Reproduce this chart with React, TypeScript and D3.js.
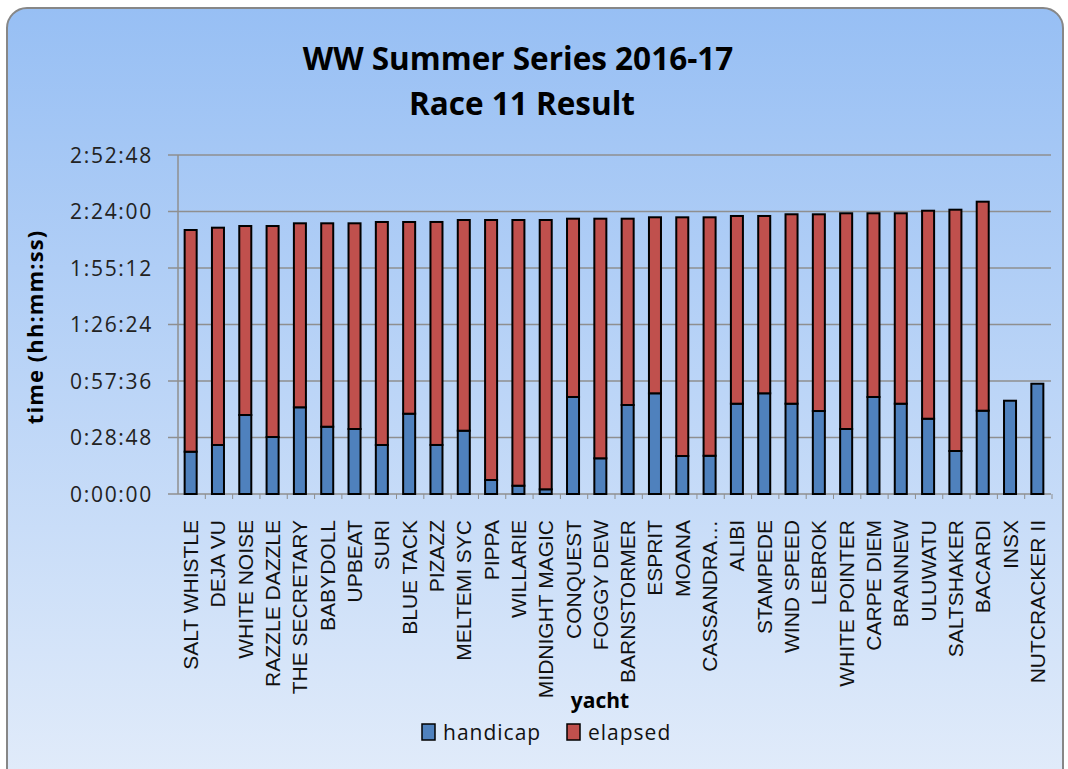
import * as d3 from "d3";
import React from "react";

const yachts = [
  "SALT WHISTLE", "DEJA VU", "WHITE NOISE", "RAZZLE DAZZLE", "THE SECRETARY", "BABYDOLL",
  "UPBEAT", "SURI", "BLUE TACK", "PIZAZZ", "MELTEMI SYC", "PIPPA", "WILLARIE", "MIDNIGHT MAGIC",
  "CONQUEST", "FOGGY DEW", "BARNSTORMER", "ESPRIT", "MOANA", "CASSANDRA\u2026", "ALIBI",
  "STAMPEDE", "WIND SPEED", "LEBROK", "WHITE POINTER", "CARPE DIEM", "BRANNEW", "ULUWATU",
  "SALTSHAKER", "BACARDI", "INSX", "NUTCRACKER II",
];

// start offset (hh:mm:ss)
const handicap = [
  "0:21:34", "0:24:59", "0:40:16", "0:29:03", "0:44:12", "0:34:18",
  "0:33:08", "0:24:59", "0:40:56", "0:25:00", "0:32:16", "0:07:08", "0:04:14", "0:02:24",
  "0:49:27", "0:18:12", "0:45:22", "0:51:20", "0:19:22", "0:19:30", "0:46:02",
  "0:51:20", "0:46:02", "0:42:18", "0:33:08", "0:49:27", "0:46:02", "0:38:23",
  "0:21:55", "0:42:28", "0:47:33", "0:56:13",
];

// sailing time (hh:mm:ss)
const elapsed = [
  "1:53:00", "1:50:46", "1:36:20", "1:47:33", "1:33:47", "1:43:41",
  "1:44:51", "1:53:40", "1:37:43", "1:53:40", "1:47:24", "2:12:32", "2:15:26", "2:17:16",
  "1:30:53", "2:02:08", "1:34:58", "1:29:43", "2:01:40", "2:01:32", "1:35:41",
  "1:30:23", "1:36:33", "1:40:16", "1:49:57", "1:33:38", "1:37:03", "1:46:01",
  "2:03:00", "1:46:32", "0:00:00", "0:00:00",
];

const yTicks = ["0:00:00", "0:28:48", "0:57:36", "1:26:24", "1:55:12", "2:24:00", "2:52:48"];

const toSec = (s: string) => {
  const [h, m, x] = s.split(":").map(Number);
  return h * 3600 + m * 60 + x;
};

const W = 1068;
const H = 769;
const margin = { top: 155, right: 17, bottom: 275, left: 178 };

export default function App() {
  const x = d3
    .scaleBand<string>()
    .domain(yachts)
    .range([margin.left - 1, W - margin.right])
    .paddingInner(0.56)
    .paddingOuter(0.28);

  const y = d3
    .scaleLinear()
    .domain([0, toSec(yTicks[yTicks.length - 1])])
    .range([H - margin.bottom, margin.top]);

  const rows = yachts.map((name, i) => ({
    name,
    handicap: toSec(handicap[i]),
    elapsed: toSec(elapsed[i]),
  }));
  const stack = d3.stack<any>().keys(["handicap", "elapsed"])(rows);
  const colors = ["#4f81bd", "#c0504d"];

  const x0 = margin.left;
  const x1 = W - margin.right;
  const yBase = y(0);
  const step = x.step();
  const labelFont = "'Liberation Sans', Arial, sans-serif";
  const mainFont = "'Open Sans', Lato, sans-serif";

  return (
    <div style={{ position: "absolute", left: 0, top: 0 }}>
      <svg width={W} height={H} style={{ display: "block" }}>
        <defs>
          <linearGradient id="bg" x1="0" y1="0" x2="0" y2="1">
            <stop offset="0" stopColor="#97bff4" />
            <stop offset="1" stopColor="#e2ecfa" />
          </linearGradient>
        </defs>
        <rect x={7} y={8} width={1056} height={780} rx={20} fill="url(#bg)" stroke="#878787" strokeWidth={2} />

        <text x={518} y={70} textAnchor="middle" fontFamily={mainFont} fontWeight="bold" fontSize={31.5} fill="#000">
          WW Summer Series 2016-17
        </text>
        <text x={522} y={115} textAnchor="middle" fontFamily={mainFont} fontWeight="bold" fontSize={31.5} fill="#000">
          Race 11 Result
        </text>

        {/* gridlines and y axis */}
        {yTicks.map((t) => (
          <g key={t}>
            <line x1={x0 - 10} x2={x1} y1={y(toSec(t))} y2={y(toSec(t))} stroke="#8f8f8f" strokeWidth={1.5} />
            <text x={153} y={y(toSec(t))} dy="0.36em" textAnchor="end" fontFamily={mainFont} fontSize={21} letterSpacing={1.7} fill="#222">
              {t}
            </text>
          </g>
        ))}
        <line x1={x0} x2={x0} y1={margin.top} y2={yBase} stroke="#8f8f8f" strokeWidth={1.5} />
        {yachts.map((name, i) => (
          <line key={"t" + i} x1={x0 + step * (i + 1)} x2={x0 + step * (i + 1)} y1={yBase} y2={yBase + 5} stroke="#8f8f8f" strokeWidth={1} />
        ))}

        {/* bars */}
        {stack.map((layer, li) => (
          <g key={li}>
            {layer.map((d, i) =>
              d[1] - d[0] > 0 ? (
                <rect
                  key={i}
                  x={x(yachts[i])!}
                  y={y(d[1])}
                  width={x.bandwidth()}
                  height={y(d[0]) - y(d[1])}
                  fill={colors[li]}
                  stroke="#000"
                  strokeWidth={2}
                />
              ) : null
            )}
          </g>
        ))}

        {/* category labels */}
        {yachts.map((name) => {
          const cx = x(name)! + x.bandwidth() / 2;
          return (
            <text
              key={name}
              transform={`translate(${cx + 7.5},${520}) rotate(-90)`}
              textAnchor="end"
              fontFamily={labelFont}
              fontSize={21}
              fill="#111"
            >
              {name}
            </text>
          );
        })}

        <text transform={`translate(43,${327}) rotate(-90)`} textAnchor="middle" fontFamily={mainFont} fontWeight="bold" fontSize={22} letterSpacing={1.1}>
          time (hh:mm:ss)
        </text>
        <text x={600} y={708} textAnchor="middle" fontFamily={mainFont} fontWeight="bold" fontSize={21}>
          yacht
        </text>

        {/* legend */}
        <rect x={422} y={724} width={13} height={16} fill={colors[0]} stroke="#000" strokeWidth={1.5} />
        <text x={443} y={740} fontFamily={mainFont} fontSize={21} letterSpacing={1} fill="#111">handicap</text>
        <rect x={567} y={724} width={13} height={16} fill={colors[1]} stroke="#000" strokeWidth={1.5} />
        <text x={588} y={740} fontFamily={mainFont} fontSize={21} letterSpacing={1} fill="#111">elapsed</text>
      </svg>
    </div>
  );
}
